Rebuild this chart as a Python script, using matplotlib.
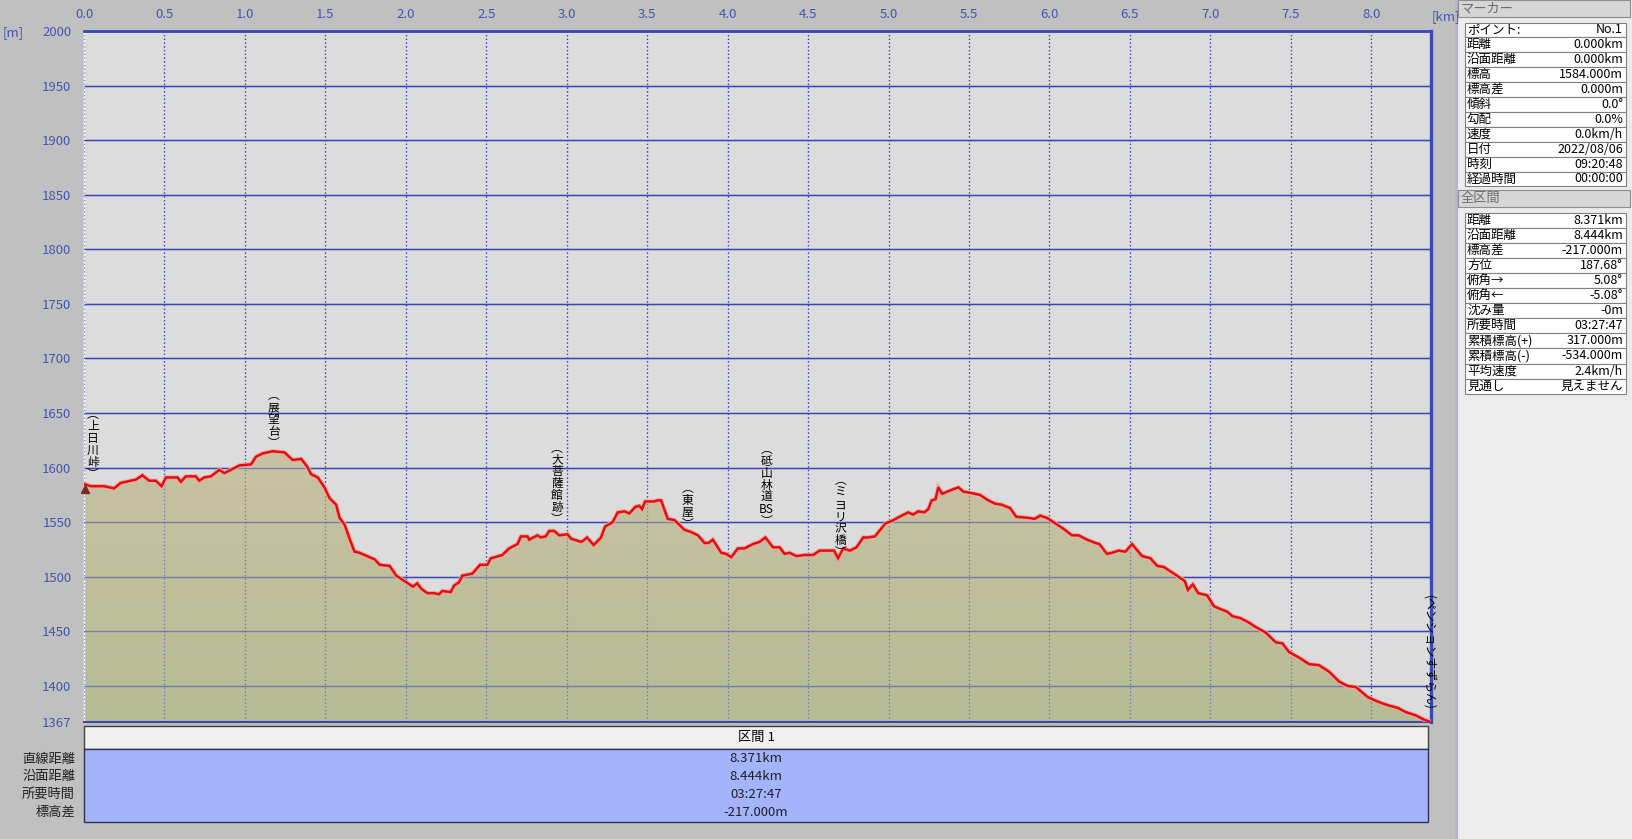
import numpy as np
import matplotlib
matplotlib.use("Agg")
from matplotlib import pyplot as plt
from matplotlib.patches import Rectangle, Polygon
from matplotlib.colors import LinearSegmentedColormap

plt.rcParams['font.family'] = ['Noto Sans CJK JP', 'DejaVu Sans']

# profile: distance [km], elevation [m]
dist_km = [0.000, 0.042, 0.125, 0.187, 0.228, 0.322, 0.363, 0.405, 0.446, 0.482,
           0.509, 0.581, 0.602, 0.633, 0.695, 0.716, 0.747, 0.789, 0.841, 0.872,
           0.913, 0.965, 1.038, 1.069, 1.110, 1.173, 1.245, 1.297, 1.349, 1.387,
           1.411, 1.453, 1.494, 1.526, 1.567, 1.588, 1.619, 1.650, 1.681, 1.712,
           1.806, 1.837, 1.899, 1.941, 2.003, 2.044, 2.071, 2.096, 2.134, 2.175,
           2.206, 2.227, 2.279, 2.300, 2.331, 2.351, 2.414, 2.461, 2.507, 2.528,
           2.554, 2.600, 2.642, 2.694, 2.715, 2.756, 2.767, 2.818, 2.839, 2.870,
           2.891, 2.922, 2.953, 3.005, 3.026, 3.088, 3.102, 3.126, 3.144, 3.167,
           3.213, 3.238, 3.285, 3.317, 3.358, 3.389, 3.426, 3.451, 3.468, 3.487,
           3.545, 3.562, 3.586, 3.628, 3.669, 3.732, 3.773, 3.815, 3.856, 3.881,
           3.908, 3.960, 3.991, 4.022, 4.064, 4.105, 4.157, 4.199, 4.234, 4.282,
           4.323, 4.354, 4.385, 4.427, 4.479, 4.531, 4.572, 4.661, 4.686, 4.718,
           4.759, 4.801, 4.842, 4.873, 4.915, 4.981, 5.018, 5.081, 5.122, 5.153,
           5.185, 5.222, 5.247, 5.268, 5.292, 5.309, 5.334, 5.381, 5.434, 5.465,
           5.506, 5.568, 5.620, 5.662, 5.703, 5.755, 5.793, 5.869, 5.907, 5.942,
           5.984, 6.025, 6.087, 6.139, 6.181, 6.233, 6.285, 6.310, 6.357, 6.389,
           6.430, 6.472, 6.513, 6.575, 6.627, 6.669, 6.710, 6.762, 6.793, 6.841,
           6.860, 6.891, 6.924, 6.980, 7.022, 7.053, 7.105, 7.136, 7.188, 7.240,
           7.281, 7.343, 7.406, 7.447, 7.489, 7.551, 7.613, 7.675, 7.738, 7.800,
           7.852, 7.904, 7.976, 8.018, 8.070, 8.111, 8.163, 8.215, 8.277, 8.329,
           8.371]
elev_m = [1585, 1583, 1583, 1581, 1586, 1589, 1593, 1588, 1588, 1583,
          1591, 1591, 1587, 1592, 1592, 1588, 1591, 1592, 1598, 1595,
          1598, 1602, 1603, 1610, 1613, 1615, 1614, 1607, 1608, 1601,
          1594, 1591, 1582, 1572, 1566, 1554, 1548, 1535, 1523, 1522,
          1516, 1511, 1510, 1501, 1495, 1491, 1494, 1489, 1485, 1485,
          1484, 1487, 1486, 1492, 1495, 1501, 1503, 1511, 1511, 1517,
          1518, 1520, 1526, 1530, 1537, 1537, 1534, 1538, 1536, 1537,
          1542, 1542, 1538, 1539, 1535, 1532, 1533, 1536, 1533, 1529,
          1536, 1546, 1550, 1559, 1560, 1558, 1564, 1565, 1562, 1569,
          1569, 1570, 1570, 1553, 1552, 1543, 1541, 1538, 1531, 1531,
          1534, 1522, 1521, 1518, 1526, 1526, 1530, 1532, 1536, 1527,
          1527, 1521, 1522, 1519, 1520, 1520, 1524, 1524, 1517, 1526,
          1524, 1527, 1536, 1536, 1537, 1549, 1551, 1556, 1559, 1557,
          1560, 1559, 1562, 1570, 1571, 1582, 1576, 1579, 1582, 1578,
          1577, 1575, 1570, 1567, 1566, 1563, 1555, 1554, 1553, 1556,
          1554, 1550, 1544, 1538, 1538, 1534, 1531, 1530, 1521, 1522,
          1524, 1523, 1530, 1519, 1517, 1510, 1509, 1504, 1501, 1496,
          1488, 1493, 1485, 1483, 1473, 1471, 1468, 1464, 1462, 1458,
          1454, 1449, 1440, 1439, 1431, 1426, 1420, 1419, 1413, 1404,
          1400, 1399, 1390, 1387, 1384, 1382, 1380, 1376, 1373, 1369,
          1367]

# waypoint labels: name, km, elevation of the label top
wp_names = ['上日川峠', '展望台', '大菩薩館跡', '東屋', '砥山林道BS', 'ミヨリ沢橋']
wp_km = [0.056, 1.18, 2.94, 3.75, 4.24, 4.70]
wp_top = [1655, 1672, 1624, 1587, 1623, 1594]
end_name = '(ペンションすずらん)'
end_km, end_mid = 8.35, 1431

x_ticks = np.arange(0, 8.01, 0.5)
y_ticks = [1367, 1400, 1450, 1500, 1550, 1600, 1650, 1700, 1750, 1800, 1850,
           1900, 1950, 2000]

marker_labels = ['ポイント:', '距離', '沿面距離', '標高', '標高差', '傾斜', '勾配',
                 '速度', '日付', '時刻', '経過時間']
marker_values = ['No.1', '0.000km', '0.000km', '1584.000m', '0.000m', '0.0°',
                 '0.0%', '0.0km/h', '2022/08/06', '09:20:48', '00:00:00']
total_labels = ['距離', '沿面距離', '標高差', '方位', '俯角→', '俯角←', '沈み量',
                '所要時間', '累積標高(+)', '累積標高(-)', '平均速度', '見通し']
total_values = ['8.371km', '8.444km', '-217.000m', '187.68°', '5.08°', '-5.08°',
                '-0m', '03:27:47', '317.000m', '-534.000m', '2.4km/h', '見えません']
sect_labels = ['直線距離', '沿面距離', '所要時間', '標高差']
sect_values = ['8.371km', '8.444km', '03:27:47', '-217.000m']

W, H = 1633, 839
BLUE = '#3a48b4'
TXT_BLUE = '#4454b0'

fig = plt.figure(figsize=(W / 100, H / 100), dpi=100, facecolor='#c0c0c0')


def fx(px):
    return px / W


def fy(py):
    return 1 - py / H


def rect(x0, y0, x1, y1, fc, ec='none', lw=0.0):
    fig.add_artist(Rectangle((fx(x0), fy(y1)), fx(x1) - fx(x0), fy(y0) - fy(y1),
                             transform=fig.transFigure, fc=fc, ec=ec, lw=lw))


def ftext(px, py, s, **kw):
    fig.text(fx(px), fy(py), s, **kw)


# main profile axes
ax = fig.add_axes([fx(84), fy(722), fx(1431) - fx(84), fy(31) - fy(722)])
ax.set_facecolor('#dcdcdc')
ax.set_xlim(0, 8.371)
ax.set_ylim(1367, 2000)

for y in y_ticks[1:]:
    ax.axhline(y, color=BLUE, lw=1.0, zorder=1)
for x in x_ticks:
    ax.axvline(x, color='#3040c0', lw=0.9, ls=(0, (1, 2)), zorder=1)

# gradient fill under the profile
top = max(elev_m)
cmap = LinearSegmentedColormap.from_list('fill', ['#b6bc96', '#c8c2a2'])
grad = np.linspace(0, 1, 256).reshape(-1, 1)
im = ax.imshow(grad, extent=[0, 8.371, 1367, top], origin='lower', aspect='auto',
               cmap=cmap, zorder=2)
verts = list(zip(dist_km, elev_m)) + [(8.371, 1367), (0, 1367)]
clip = Polygon(verts, closed=True, fc='none', ec='none', transform=ax.transData)
ax.add_patch(clip)
im.set_clip_path(clip)
# grid shows faintly through the fill
for y in y_ticks[1:]:
    ax.axhline(y, color=BLUE, lw=1.0, alpha=0.55, zorder=3)
for x in x_ticks:
    ax.axvline(x, color='#3040c0', lw=0.9, ls=(0, (1, 2)), alpha=0.6, zorder=3)

ax.plot(dist_km, elev_m, color='#f4a8a0', lw=3.2, zorder=4, solid_joinstyle='miter')
ax.plot(dist_km, elev_m, color='#e01010', lw=1.8, zorder=5, solid_joinstyle='miter')

# small hiker marker at the start point
ax.plot([0.005], [1580], marker='^', ms=6, color='#7a2a20', zorder=6, clip_on=False)

# waypoint labels, stacked vertically
for name, xk, yt in zip(wp_names, wp_km, wp_top):
    s = '\n'.join(['︵'] + list(name.replace('BS', '\u0000')) + ['︶'])
    s = s.replace('\u0000', 'BS')
    ax.text(xk, yt, s, ha='center', va='top', fontsize=8.5, linespacing=0.9,
            color='black', zorder=6)
ax.text(end_km, end_mid, end_name, rotation=-90, ha='center', va='center',
        fontsize=8.6, color='black', zorder=6)

ax.set_xticks(x_ticks)
ax.set_xticklabels([f'{v:.1f}' for v in x_ticks])
ax.set_yticks(y_ticks)
ax.set_yticklabels([str(v) for v in y_ticks])
ax.xaxis.tick_top()
ax.tick_params(axis='x', length=0, pad=7, labelsize=9.5, labelcolor=TXT_BLUE)
ax.tick_params(axis='y', length=0, pad=9, labelsize=9.5, labelcolor=TXT_BLUE)
ax.spines['top'].set_color(BLUE)
ax.spines['top'].set_linewidth(2.0)
ax.spines['right'].set_color(BLUE)
ax.spines['right'].set_linewidth(2.4)
ax.spines['bottom'].set_color(BLUE)
ax.spines['bottom'].set_linewidth(1.5)
ax.spines['left'].set_color('white')
ax.spines['left'].set_linewidth(1.0)

ftext(3, 33, '[m]', ha='left', va='center', fontsize=9.5, color=TXT_BLUE)
ftext(1432, 17, '[km]', ha='left', va='center', fontsize=9.5, color=TXT_BLUE)

# section summary below the chart
rect(84, 726, 1428, 749, '#f0f0f0', ec='#404040', lw=1.0)
ftext(756, 737.5, '区間 1', ha='center', va='center', fontsize=9.5, color='black')
rect(84, 749, 1428, 822, '#a4b4fc', ec='#303050', lw=1.0)
for i, (lab, val) in enumerate(zip(sect_labels, sect_values)):
    yy = 759 + i * 17.7
    ftext(75, yy, lab, ha='right', va='center', fontsize=9.5, color='#202020')
    ftext(756, yy, val, ha='center', va='center', fontsize=9.5, color='#202020')

# right side panel
rect(1455, 0, 1633, 839, '#ececec')
rect(1455, 0, 1458, 839, '#b4b4c4')


def panel(y_head, title, y0, row_h, labels, values):
    rect(1458, y_head, 1630, y_head + 17, '#d6d6d6', ec='#8c8c8c', lw=0.8)
    ftext(1461, y_head + 8.5, title, ha='left', va='center', fontsize=9.5,
          color='#6c6c6c')
    for i, (lab, val) in enumerate(zip(labels, values)):
        ya = y0 + i * row_h
        rect(1465, ya, 1626, ya + row_h, 'white', ec='#808080', lw=0.8)
        ftext(1467, ya + row_h / 2, lab, ha='left', va='center', fontsize=9,
              color='black')
        ftext(1623, ya + row_h / 2, val, ha='right', va='center', fontsize=9,
              color='black')


panel(0, 'マーカー', 22.5, 14.9, marker_labels, marker_values)
panel(190, '全区間', 212.5, 15.1, total_labels, total_values)

fig.savefig('out.png', dpi=100, facecolor=fig.get_facecolor())
